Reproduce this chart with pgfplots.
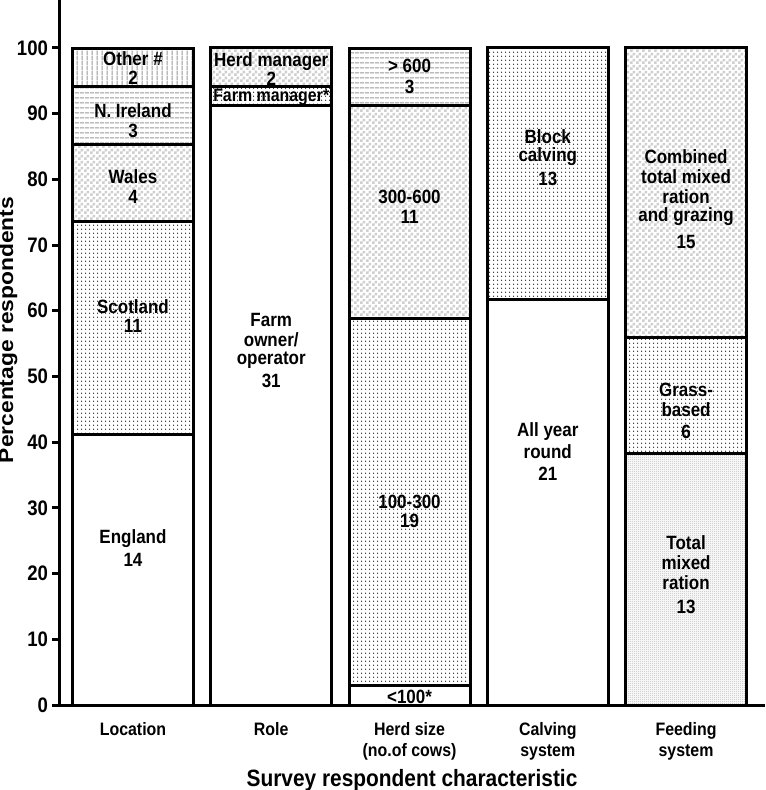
\documentclass[border=0pt]{standalone}
\usepackage{pgfplots}
\pgfplotsset{compat=1.18}
\usepackage{fontspec}
\setmainfont{Liberation Sans}[FakeStretch=0.885]
\newfontfamily\ylfont{Liberation Sans}[FakeStretch=1.13]
\usetikzlibrary{patterns}

\pgfdeclarepatternformonly{chk}{\pgfpointorigin}{\pgfqpoint{3pt}{3pt}}{\pgfqpoint{3pt}{3pt}}{%
 \pgfpathrectangle{\pgfpointorigin}{\pgfqpoint{1.5pt}{1.5pt}}%
 \pgfpathrectangle{\pgfqpoint{1.5pt}{1.5pt}}{\pgfqpoint{1.5pt}{1.5pt}}%
 \pgfusepath{fill}}
\pgfdeclarepatternformonly{fchk}{\pgfpointorigin}{\pgfqpoint{1pt}{1pt}}{\pgfqpoint{1pt}{1pt}}{%
 \pgfpathrectangle{\pgfpointorigin}{\pgfqpoint{0.5pt}{0.5pt}}%
 \pgfpathrectangle{\pgfqpoint{0.5pt}{0.5pt}}{\pgfqpoint{0.5pt}{0.5pt}}%
 \pgfusepath{fill}}
\pgfdeclarepatternformonly{dts}{\pgfpointorigin}{\pgfqpoint{2pt}{1.85pt}}{\pgfqpoint{2pt}{1.85pt}}{%
 \pgfpathcircle{\pgfqpoint{1pt}{0.925pt}}{0.38pt}\pgfusepath{fill}}
\pgfdeclarepatternformonly{hln}{\pgfpointorigin}{\pgfqpoint{2.5pt}{2.5pt}}{\pgfqpoint{2.5pt}{2.5pt}}{%
 \pgfsetlinewidth{0.5pt}\pgfpathmoveto{\pgfqpoint{0pt}{1.25pt}}\pgfpathlineto{\pgfqpoint{2.5pt}{1.25pt}}\pgfusepath{stroke}}
\pgfdeclarepatternformonly{vln}{\pgfpointorigin}{\pgfqpoint{2.5pt}{2.5pt}}{\pgfqpoint{2.5pt}{2.5pt}}{%
 \pgfsetlinewidth{0.5pt}\pgfpathmoveto{\pgfqpoint{1.25pt}{0pt}}\pgfpathlineto{\pgfqpoint{1.25pt}{2.5pt}}\pgfusepath{stroke}}

\newcommand\lbfont{\bfseries\fontsize{9.6}{11}\selectfont}
\newcommand\lab[3]{\node[font=\lbfont, inner sep=0pt] at (axis cs:#1,#2) {#3};}

\pgfplotsset{
 frame/.style={at={(0,0)}, anchor=south west, scale only axis, width=353pt, height=352.5pt,
   xmin=-0.535, xmax=4.571, ymin=0, ymax=107.3},
 seg/.style={draw=black, line width=1.5pt, preaction={fill=white}},
 segW/.style={seg},
 segD/.style={seg, pattern=dts, pattern color=black!80},
 segC/.style={seg, pattern=chk, pattern color=gray!38},
 segH/.style={seg, pattern=hln, pattern color=gray!80},
 segV/.style={seg, pattern=vln, pattern color=gray!80},
 segF/.style={seg, pattern=fchk, pattern color=gray!55},
}

\begin{document}
\begin{tikzpicture}
\useasboundingbox (-29.5pt,-42.5pt) rectangle (353pt,352.5pt);
\begin{axis}[
 frame,
 ybar stacked, bar width=0.875,
 axis x line*=bottom, axis y line*=left,
 axis line style={line width=1.5pt, black},
 ytick={0,10,...,100}, ytick pos=left,
 tick align=outside, major tick length=3.5pt,
 ytick style={line width=1.5pt, black},
 xtick={0,1,2,3,4},
 xticklabels={Location, Role, {Herd size\\(no.of cows)}, {Calving\\system}, {Feeding\\system}},
 xtick style={draw=none},
 x tick label style={align=center, font=\bfseries\fontsize{9}{10.5}\selectfont, yshift=-1.5pt},
 y tick label style={font=\bfseries\fontsize{10.5}{11}\selectfont, xshift=1.5pt},
 /pgf/number format/assume math mode=true,
 xlabel={Survey respondent characteristic},
 xlabel style={at={(axis description cs:0.5,0)}, anchor=center, yshift=-37.5pt, font=\bfseries\fontsize{11.8}{13}\selectfont},
 ylabel={Percentage respondents},
 ylabel style={at={(axis description cs:0,0.532)}, anchor=center, yshift=25.5pt, font=\ylfont\bfseries\fontsize{10.1}{12}\selectfont},
]
% Location (England 14, Scotland 11, Wales 4, N. Ireland 3, Other 2; n = 34)
\addplot[segW] coordinates {(0,41.18) (1,0) (2,0) (3,0) (4,0)};
\addplot[segD] coordinates {(0,32.35) (1,0) (2,0) (3,0) (4,0)};
\addplot[segC] coordinates {(0,11.76) (1,0) (2,0) (3,0) (4,0)};
\addplot[segH] coordinates {(0,8.82) (1,0) (2,0) (3,0) (4,0)};
\addplot[segV] coordinates {(0,5.88) (1,0) (2,0) (3,0) (4,0)};
% Role (Farm owner/operator 31, Farm manager 1, Herd manager 2)
\addplot[segW] coordinates {(0,0) (1,91.18) (2,0) (3,0) (4,0)};
\addplot[segD] coordinates {(0,0) (1,2.94) (2,0) (3,0) (4,0)};
\addplot[segC] coordinates {(0,0) (1,5.88) (2,0) (3,0) (4,0)};
% Herd size (<100 1, 100-300 19, 300-600 11, >600 3)
\addplot[segW] coordinates {(0,0) (1,0) (2,2.94) (3,0) (4,0)};
\addplot[segD] coordinates {(0,0) (1,0) (2,55.88) (3,0) (4,0)};
\addplot[segC] coordinates {(0,0) (1,0) (2,32.35) (3,0) (4,0)};
\addplot[segH] coordinates {(0,0) (1,0) (2,8.82) (3,0) (4,0)};
% Calving system (All year round 21, Block 13)
\addplot[segW] coordinates {(0,0) (1,0) (2,0) (3,61.76) (4,0)};
\addplot[segD] coordinates {(0,0) (1,0) (2,0) (3,38.24) (4,0)};
% Feeding system (TMR 13, Grass-based 6, Combined 15)
\addplot[segF] coordinates {(0,0) (1,0) (2,0) (3,0) (4,38.24)};
\addplot[segD] coordinates {(0,0) (1,0) (2,0) (3,0) (4,17.65)};
\addplot[segC] coordinates {(0,0) (1,0) (2,0) (3,0) (4,44.12)};
\end{axis}
\begin{axis}[frame, hide axis]
\lab{0}{98.4}{Other \#}\lab{0}{95.5}{2}
\lab{0}{90.4}{N. Ireland}\lab{0}{87.4}{3}
\lab{0}{80.4}{Wales}\lab{0}{77.3}{4}
\lab{0}{60.7}{Scotland}\lab{0}{57.7}{11}
\lab{0}{25.4}{England}\lab{0}{22.1}{14}
\lab{1}{97.9}{Herd manager}\lab{1}{95.3}{2}
\node[font=\bfseries\fontsize{9}{10}\selectfont, inner sep=0pt] at (axis cs:1,92.5) {Farm manager*};
\lab{1}{58.6}{Farm}\lab{1}{55.6}{owner/}\lab{1}{52.5}{operator}\lab{1}{49.3}{31}
\lab{2}{97.3}{> 600}\lab{2}{94.1}{3}
\lab{2}{77.3}{300-600}\lab{2}{74.3}{11}
\lab{2}{30.9}{100-300}\lab{2}{28.0}{19}
\lab{2}{1.2}{<100*}
\lab{3}{86.5}{Block}\lab{3}{83.4}{calving}\lab{3}{80.1}{13}
\lab{3}{41.6}{All year}\lab{3}{38.5}{round}\lab{3}{35.2}{21}
\lab{4}{83.4}{Combined}\lab{4}{80.4}{total mixed}\lab{4}{77.3}{ration}\lab{4}{74.3}{and grazing}\lab{4}{70.5}{15}
\lab{4}{47.9}{Grass-}\lab{4}{44.9}{based}\lab{4}{41.6}{6}
\lab{4}{24.7}{Total}\lab{4}{21.6}{mixed}\lab{4}{18.6}{ration}\lab{4}{14.9}{13}
\end{axis}
\end{tikzpicture}
\end{document}
